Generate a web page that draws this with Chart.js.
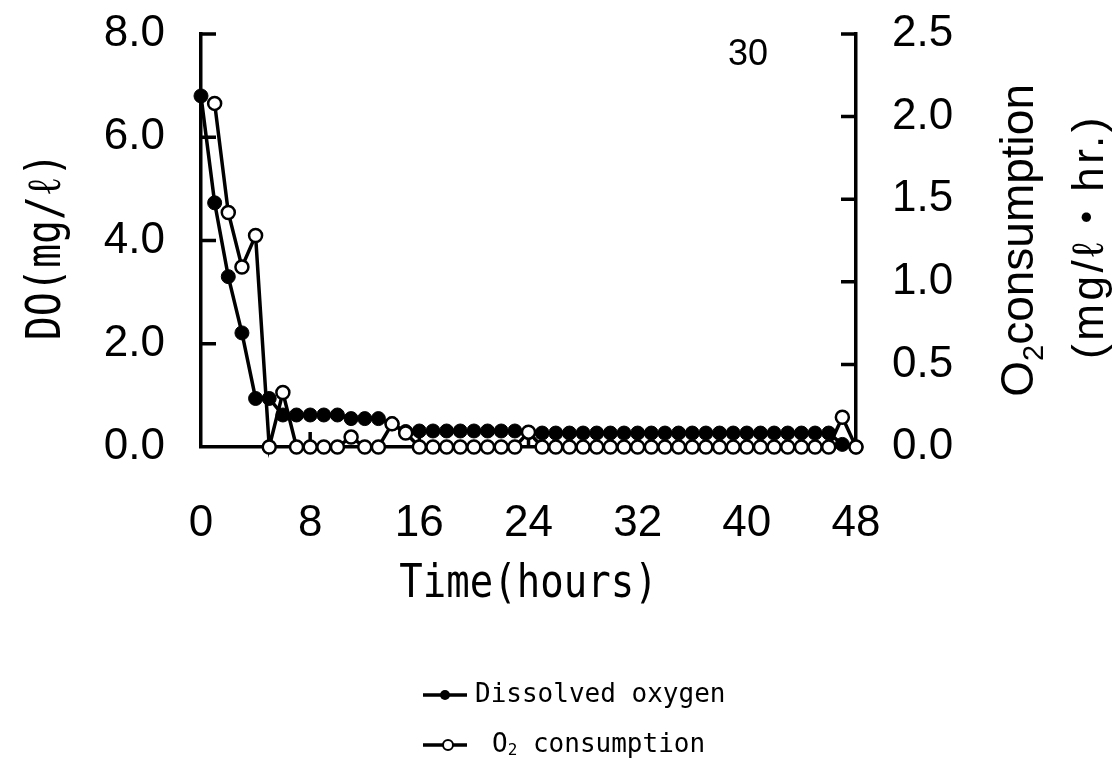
<!DOCTYPE html>
<html>
<head>
<meta charset="utf-8">
<title>DO and O2 consumption</title>
<script src="https://cdn.jsdelivr.net/npm/chart.js@4.4.1/dist/chart.umd.min.js"></script>
<style>
  html, body { margin: 0; padding: 0; background: #fff; }
  #wrap { width: 1120px; height: 771px; }
</style>
</head>
<body>
<div id="wrap"><canvas id="chart" width="1120" height="771"></canvas></div>
<script>
// hours sampled
const hours = [
  0, 1, 2, 3, 4, 5, 6, 7, 8, 9, 10, 11, 12, 13, 14, 15, 16,
  17, 18, 19, 20, 21, 22, 23, 24, 25, 26, 27, 28, 29, 30, 31, 32,
  33, 34, 35, 36, 37, 38, 39, 40, 41, 42, 43, 44, 45, 46, 47, 48
];

// dissolved oxygen, mg/l
const dissolvedOxygen = [
  6.80, 4.73, 3.30, 2.21, 0.94, 0.94, 0.62, 0.62, 0.62, 0.62, 0.62, 0.55, 0.55, 0.55, 0.45, 0.30, 0.31,
  0.31, 0.31, 0.31, 0.31, 0.31, 0.31, 0.31, 0.28, 0.27, 0.27, 0.27, 0.27, 0.27, 0.27, 0.27, 0.27,
  0.27, 0.27, 0.27, 0.27, 0.27, 0.27, 0.27, 0.27, 0.27, 0.27, 0.27, 0.27, 0.27, 0.27, 0.05, 0.00
];

// O2 consumption, mg/l/hr (nothing at hour 0)
const o2Consumption = [
  null, 2.08, 1.42, 1.09, 1.28, 0.00, 0.33, 0.00, 0.00, 0.00, 0.00, 0.06, 0.00, 0.00, 0.14, 0.085, 0.00,
  0.00, 0.00, 0.00, 0.00, 0.00, 0.00, 0.00, 0.09, 0.00, 0.00, 0.00, 0.00, 0.00, 0.00, 0.00, 0.00,
  0.00, 0.00, 0.00, 0.00, 0.00, 0.00, 0.00, 0.00, 0.00, 0.00, 0.00, 0.00, 0.00, 0.00, 0.18, 0.00
];

const xTicks = [0, 8, 16, 24, 32, 40, 48];
const doTicks = [0, 2, 4, 6, 8];
const o2Ticks = [0, 0.5, 1.0, 1.5, 2.0, 2.5];

const SANS = "'Liberation Sans', Arial, sans-serif";
const MONO = "'DejaVu Sans Mono', monospace";

const toPoints = vals => hours.map((h, i) => ({ x: h, y: vals[i] }));

// fixed box sizes so the plot area lands where wanted
const fixWidth = w => s => { s.width = w; s.paddingTop = 0; s.paddingBottom = 0; };

// inward tick marks on the three axes
const innerTicks = {
  id: 'innerTicks',
  beforeDatasetsDraw(chart) {
    const { ctx, chartArea: a, scales } = chart;
    ctx.save();
    ctx.strokeStyle = '#000';
    ctx.lineWidth = 3.5;
    ctx.beginPath();
    xTicks.slice(1, -1).forEach(v => {
      const px = scales.x.getPixelForValue(v);
      ctx.moveTo(px, a.bottom);
      ctx.lineTo(px, a.bottom - 15);
    });
    doTicks.slice(1).forEach(v => {
      const py = scales.y.getPixelForValue(v);
      ctx.moveTo(a.left, py);
      ctx.lineTo(a.left + 15, py);
    });
    o2Ticks.slice(1).forEach(v => {
      const py = scales.y1.getPixelForValue(v);
      ctx.moveTo(a.right, py);
      ctx.lineTo(a.right - 15, py);
    });
    ctx.stroke();
    ctx.restore();
  }
};

// O + subscript 2, then the rest
function drawO2(ctx, x, y, size, font, rest) {
  ctx.font = size + 'px ' + font;
  ctx.fillText('O', x, y);
  let w = ctx.measureText('O').width;
  ctx.font = Math.round(size * 0.62) + 'px ' + font;
  ctx.fillText('2', x + w, y + size * 0.22);
  w += ctx.measureText('2').width;
  ctx.font = size + 'px ' + font;
  ctx.fillText(rest, x + w, y);
}

// axis titles, page number and legend
const annotations = {
  id: 'annotations',
  afterDraw(chart) {
    const { ctx, chartArea: a } = chart;
    const midY = (a.top + a.bottom) / 2;
    ctx.save();
    ctx.fillStyle = '#000';
    ctx.strokeStyle = '#000';

    // left title (tall narrow lettering)
    ctx.save();
    ctx.translate(60, midY + 6);
    ctx.rotate(-Math.PI / 2);
    ctx.scale(1, 1.18);
    ctx.textAlign = 'center';
    ctx.textBaseline = 'alphabetic';
    ctx.font = '40px ' + MONO;
    ctx.fillText('DO(mg/ℓ)', 0, 0);
    ctx.restore();

    // right titles
    ctx.save();
    ctx.translate(1033, midY);
    ctx.rotate(-Math.PI / 2);
    ctx.textBaseline = 'alphabetic';
    ctx.font = '46px ' + SANS;
    const w1 = ctx.measureText('Oconsumption').width + ctx.measureText('2').width * 0.62;
    drawO2(ctx, -w1 / 2, 0, 46, SANS, 'consumption');
    ctx.restore();

    ctx.save();
    ctx.translate(1103, midY - 4);
    ctx.rotate(-Math.PI / 2);
    ctx.textAlign = 'center';
    ctx.textBaseline = 'alphabetic';
    ctx.letterSpacing = '3.5px';
    ctx.font = "44px 'Liberation Sans', 'Noto Sans CJK JP', sans-serif";
    ctx.fillText('(mg/ℓ・hr.)', 0, 0);
    ctx.restore();

    // x title
    ctx.save();
    ctx.translate((a.left + a.right) / 2, 597);
    ctx.scale(1, 1.18);
    ctx.textAlign = 'center';
    ctx.textBaseline = 'alphabetic';
    ctx.font = '39px ' + MONO;
    ctx.fillText('Time(hours)', 0, 0);
    ctx.restore();

    // page number
    ctx.textAlign = 'center';
    ctx.textBaseline = 'middle';
    ctx.font = '36px ' + SANS;
    ctx.fillText('30', 748, 55);

    // legend
    ctx.lineWidth = 3.5;
    ctx.textAlign = 'left';
    ctx.textBaseline = 'middle';
    ctx.beginPath();
    ctx.moveTo(423, 695); ctx.lineTo(467, 695);
    ctx.moveTo(423, 745); ctx.lineTo(467, 745);
    ctx.stroke();
    ctx.beginPath();
    ctx.arc(445, 695, 5, 0, Math.PI * 2);
    ctx.fill();
    ctx.beginPath();
    ctx.arc(448, 745, 5, 0, Math.PI * 2);
    ctx.fillStyle = '#fff';
    ctx.fill();
    ctx.lineWidth = 2;
    ctx.stroke();
    ctx.fillStyle = '#000';
    ctx.font = '26px ' + MONO;
    ctx.fillText('Dissolved oxygen', 475, 695);
    drawO2(ctx, 492, 745, 26, MONO, ' consumption');

    ctx.restore();
  }
};

new Chart(document.getElementById('chart'), {
  type: 'line',
  data: {
    datasets: [
      {
        label: 'O2 consumption',
        data: toPoints(o2Consumption),
        yAxisID: 'y1',
        order: 0,
        borderColor: '#000',
        borderWidth: 3.5,
        pointRadius: 6.5,
        pointBorderWidth: 2.5,
        pointBackgroundColor: '#fff',
        pointBorderColor: '#000',
        tension: 0,
        clip: false
      },
      {
        label: 'Dissolved oxygen',
        data: toPoints(dissolvedOxygen),
        yAxisID: 'y',
        order: 1,
        borderColor: '#000',
        borderWidth: 3.5,
        pointRadius: 7,
        pointBorderWidth: 1,
        pointBackgroundColor: '#000',
        pointBorderColor: '#000',
        tension: 0,
        clip: false
      }
    ]
  },
  options: {
    responsive: false,
    animation: false,
    devicePixelRatio: 1,
    layout: { padding: { top: 34, left: 0, right: 0, bottom: 0 } },
    plugins: {
      legend: { display: false },
      tooltip: { enabled: false }
    },
    scales: {
      x: {
        type: 'linear',
        min: 0,
        max: 48,
        afterFit: s => { s.height = 324; s.paddingLeft = 0; s.paddingRight = 0; },
        afterBuildTicks: s => { s.ticks = xTicks.map(v => ({ value: v })); },
        grid: { drawOnChartArea: false, drawTicks: false },
        border: { display: true, color: '#000', width: 3.5 },
        ticks: { color: '#000', padding: 50, font: { family: SANS, size: 44 }, maxRotation: 0 }
      },
      y: {
        position: 'left',
        min: 0,
        max: 8,
        afterFit: fixWidth(201),
        afterBuildTicks: s => { s.ticks = doTicks.map(v => ({ value: v })); },
        grid: { drawOnChartArea: false, drawTicks: false },
        border: { display: true, color: '#000', width: 3.5 },
        ticks: { color: '#000', padding: 36, font: { family: SANS, size: 44 }, callback: v => v.toFixed(1) }
      },
      y1: {
        position: 'right',
        min: 0,
        max: 2.5,
        afterFit: fixWidth(264),
        afterBuildTicks: s => { s.ticks = o2Ticks.map(v => ({ value: v })); },
        grid: { drawOnChartArea: false, drawTicks: false },
        border: { display: true, color: '#000', width: 3.5 },
        ticks: { color: '#000', padding: 36, font: { family: SANS, size: 44 }, callback: v => v.toFixed(1) }
      }
    }
  },
  plugins: [innerTicks, annotations]
});
</script>
</body>
</html>
